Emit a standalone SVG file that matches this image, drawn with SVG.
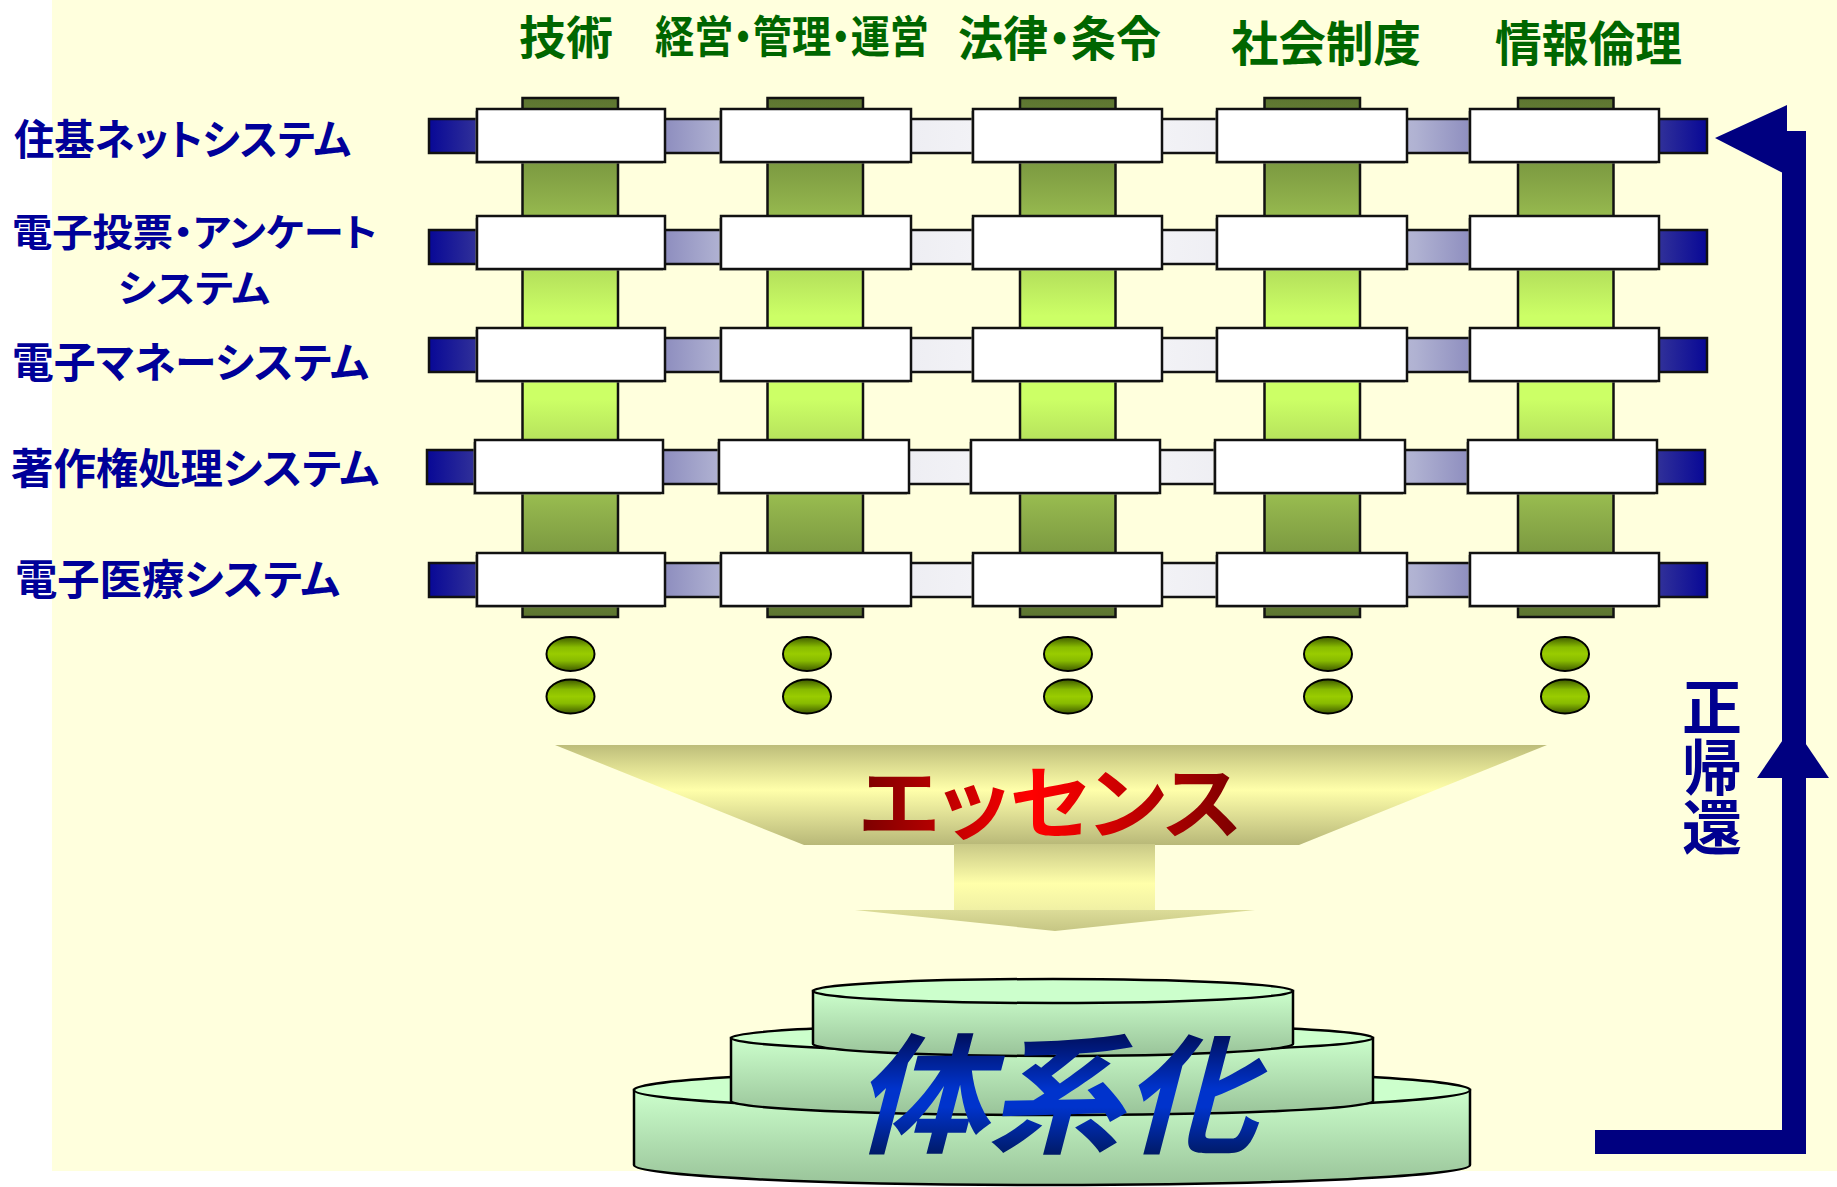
<svg xmlns="http://www.w3.org/2000/svg" width="1837" height="1187" viewBox="0 0 1837 1187">
<style>
  text { font-family: "Noto Sans CJK JP", "Noto Sans CJK SC", sans-serif; font-feature-settings: "palt"; }
  .hdr { font-size: 48px; font-weight: bold; fill: #006600; }
  .lbl { font-size: 42px; font-weight: bold; fill: #000099; }
  .box { fill: #ffffff; stroke: #111111; stroke-width: 2.5; }
  .shadow { fill: #8f8f80; opacity: 0.5; }
  .col { fill: url(#gCol); stroke: #111111; stroke-width: 2.5; }
  .bar { fill: url(#gBar); stroke: #111111; stroke-width: 2.5; }
  .dot { fill: url(#gDot); stroke: #000000; stroke-width: 2; }
  .cylside { fill: url(#gCyl); stroke: #000000; stroke-width: 2.5; }
  .cyltop { fill: #CCFFCC; stroke: #000000; stroke-width: 2.5; }
  .fb { fill: #000080; }
</style>
<defs>
  <linearGradient id="gCol" x1="0" y1="0" x2="0" y2="1">
    <stop offset="0" stop-color="#5C7530"/>
    <stop offset="0.2" stop-color="#8FB04B"/>
    <stop offset="0.42" stop-color="#CCFF66"/>
    <stop offset="0.58" stop-color="#CCFF66"/>
    <stop offset="0.8" stop-color="#8FB04B"/>
    <stop offset="1" stop-color="#5C7530"/>
  </linearGradient>
  <linearGradient id="gBar" x1="0" y1="0" x2="1" y2="0">
    <stop offset="0" stop-color="#080896"/>
    <stop offset="0.037" stop-color="#303099"/>
    <stop offset="0.185" stop-color="#8E8EBF"/>
    <stop offset="0.228" stop-color="#B0B2D2"/>
    <stop offset="0.377" stop-color="#EEEEF3"/>
    <stop offset="0.5" stop-color="#F8F8FA"/>
    <stop offset="0.623" stop-color="#EEEEF3"/>
    <stop offset="0.772" stop-color="#B0B2D2"/>
    <stop offset="0.815" stop-color="#8E8EBF"/>
    <stop offset="0.963" stop-color="#303099"/>
    <stop offset="1" stop-color="#080896"/>
  </linearGradient>
  <linearGradient id="gDot" x1="0" y1="0" x2="0" y2="1">
    <stop offset="0" stop-color="#3F5A00"/>
    <stop offset="0.3" stop-color="#88BB00"/>
    <stop offset="0.5" stop-color="#99CC00"/>
    <stop offset="0.7" stop-color="#88BB00"/>
    <stop offset="1" stop-color="#3F5A00"/>
  </linearGradient>
  <linearGradient id="gFunnel" x1="0" y1="0" x2="0" y2="1">
    <stop offset="0" stop-color="#BDBD7A"/>
    <stop offset="0.15" stop-color="#D4D48A"/>
    <stop offset="0.45" stop-color="#FFFFAA"/>
    <stop offset="0.75" stop-color="#D8D890"/>
    <stop offset="1" stop-color="#B8B878"/>
  </linearGradient>
  <linearGradient id="gStem" x1="0" y1="0" x2="0" y2="1">
    <stop offset="0" stop-color="#C9C986"/>
    <stop offset="0.6" stop-color="#FFFFAA"/>
    <stop offset="1" stop-color="#F0F0A4"/>
  </linearGradient>
  <linearGradient id="gHead" x1="0" y1="0" x2="0" y2="1">
    <stop offset="0" stop-color="#DCDC98"/>
    <stop offset="1" stop-color="#C6C684"/>
  </linearGradient>
  <linearGradient id="gCyl" x1="0" y1="0" x2="0" y2="1">
    <stop offset="0" stop-color="#CCFFCC"/>
    <stop offset="1" stop-color="#99C399"/>
  </linearGradient>
  <linearGradient id="gEss" gradientUnits="userSpaceOnUse" x1="859" y1="0" x2="1242" y2="0">
    <stop offset="0" stop-color="#7A0000"/>
    <stop offset="0.45" stop-color="#FF0000"/>
    <stop offset="0.6" stop-color="#E00000"/>
    <stop offset="1" stop-color="#7A0000"/>
  </linearGradient>
  <linearGradient id="gTaikei" gradientUnits="userSpaceOnUse" x1="0" y1="1035" x2="0" y2="1155">
    <stop offset="0" stop-color="#001060"/>
    <stop offset="0.45" stop-color="#0033CC"/>
    <stop offset="0.6" stop-color="#0033CC"/>
    <stop offset="1" stop-color="#001A66"/>
  </linearGradient>
</defs>

<rect x="0" y="0" width="1837" height="1187" fill="#ffffff"/>
<rect x="52" y="0" width="1785" height="1171" fill="#FFFFDD"/>

<g id="headers">
  <text class="hdr" x="519" y="54" style="font-size:46px" textLength="94" lengthAdjust="spacingAndGlyphs">技術</text>
  <text class="hdr" x="655" y="53" style="font-size:44px" textLength="274" lengthAdjust="spacingAndGlyphs">経営・管理・運営</text>
  <text class="hdr" x="958" y="56" textLength="203" lengthAdjust="spacingAndGlyphs">法律・条令</text>
  <text class="hdr" x="1231" y="61" textLength="190" lengthAdjust="spacingAndGlyphs">社会制度</text>
  <text class="hdr" x="1495" y="61" textLength="187" lengthAdjust="spacingAndGlyphs">情報倫理</text>
</g>

<g id="columns">
  <rect class="col" x="522.5" y="98" width="95.5" height="519"/>
  <rect class="col" x="767.5" y="98" width="95.5" height="519"/>
  <rect class="col" x="1020" y="98" width="95.5" height="519"/>
  <rect class="col" x="1264.5" y="98" width="95.5" height="519"/>
  <rect class="col" x="1518" y="98" width="95.5" height="519"/>
</g>

<g id="row-juki">
  <text class="lbl" x="14" y="155" textLength="337" lengthAdjust="spacingAndGlyphs">住基ネットシステム</text>
  <rect class="bar" x="429" y="119" width="1278" height="34"/>
  <rect class="shadow" x="475" y="111" width="188" height="53"/><rect class="box" x="477" y="109" width="188" height="53"/>
  <rect class="shadow" x="719" y="111" width="190" height="53"/><rect class="box" x="721" y="109" width="190" height="53"/>
  <rect class="shadow" x="971" y="111" width="189" height="53"/><rect class="box" x="973" y="109" width="189" height="53"/>
  <rect class="shadow" x="1215" y="111" width="190" height="53"/><rect class="box" x="1217" y="109" width="190" height="53"/>
  <rect class="shadow" x="1468" y="111" width="189" height="53"/><rect class="box" x="1470" y="109" width="189" height="53"/>
</g>

<g id="row-vote">
  <text class="lbl" style="font-size:38px"><tspan x="12" y="246" textLength="365" lengthAdjust="spacingAndGlyphs">電子投票・アンケート</tspan><tspan x="118" y="302" textLength="152" lengthAdjust="spacingAndGlyphs">システム</tspan></text>
  <rect class="bar" x="429" y="230" width="1278" height="34"/>
  <rect class="shadow" x="475" y="218" width="188" height="53"/><rect class="box" x="477" y="216" width="188" height="53"/>
  <rect class="shadow" x="719" y="218" width="190" height="53"/><rect class="box" x="721" y="216" width="190" height="53"/>
  <rect class="shadow" x="971" y="218" width="189" height="53"/><rect class="box" x="973" y="216" width="189" height="53"/>
  <rect class="shadow" x="1215" y="218" width="190" height="53"/><rect class="box" x="1217" y="216" width="190" height="53"/>
  <rect class="shadow" x="1468" y="218" width="189" height="53"/><rect class="box" x="1470" y="216" width="189" height="53"/>
</g>

<g id="row-money">
  <text class="lbl" x="12" y="378" textLength="357" lengthAdjust="spacingAndGlyphs">電子マネーシステム</text>
  <rect class="bar" x="429" y="338" width="1278" height="34"/>
  <rect class="shadow" x="475" y="330" width="188" height="53"/><rect class="box" x="477" y="328" width="188" height="53"/>
  <rect class="shadow" x="719" y="330" width="190" height="53"/><rect class="box" x="721" y="328" width="190" height="53"/>
  <rect class="shadow" x="971" y="330" width="189" height="53"/><rect class="box" x="973" y="328" width="189" height="53"/>
  <rect class="shadow" x="1215" y="330" width="190" height="53"/><rect class="box" x="1217" y="328" width="190" height="53"/>
  <rect class="shadow" x="1468" y="330" width="189" height="53"/><rect class="box" x="1470" y="328" width="189" height="53"/>
</g>

<g id="row-copyright">
  <text class="lbl" x="11" y="484" textLength="368" lengthAdjust="spacingAndGlyphs">著作権処理システム</text>
  <rect class="bar" x="427" y="450" width="1278" height="34"/>
  <rect class="shadow" x="473" y="442" width="188" height="53"/><rect class="box" x="475" y="440" width="188" height="53"/>
  <rect class="shadow" x="717" y="442" width="190" height="53"/><rect class="box" x="719" y="440" width="190" height="53"/>
  <rect class="shadow" x="969" y="442" width="189" height="53"/><rect class="box" x="971" y="440" width="189" height="53"/>
  <rect class="shadow" x="1213" y="442" width="190" height="53"/><rect class="box" x="1215" y="440" width="190" height="53"/>
  <rect class="shadow" x="1466" y="442" width="189" height="53"/><rect class="box" x="1468" y="440" width="189" height="53"/>
</g>

<g id="row-medical">
  <text class="lbl" x="15" y="595" textLength="325" lengthAdjust="spacingAndGlyphs">電子医療システム</text>
  <rect class="bar" x="429" y="563" width="1278" height="34"/>
  <rect class="shadow" x="475" y="555" width="188" height="53"/><rect class="box" x="477" y="553" width="188" height="53"/>
  <rect class="shadow" x="719" y="555" width="190" height="53"/><rect class="box" x="721" y="553" width="190" height="53"/>
  <rect class="shadow" x="971" y="555" width="189" height="53"/><rect class="box" x="973" y="553" width="189" height="53"/>
  <rect class="shadow" x="1215" y="555" width="190" height="53"/><rect class="box" x="1217" y="553" width="190" height="53"/>
  <rect class="shadow" x="1468" y="555" width="189" height="53"/><rect class="box" x="1470" y="553" width="189" height="53"/>
</g>

<g id="continuation-dots">
  <ellipse class="dot" cx="570.5" cy="654" rx="24" ry="17"/>
  <ellipse class="dot" cx="570.5" cy="696.5" rx="24" ry="17"/>
  <ellipse class="dot" cx="807" cy="654" rx="24" ry="17"/>
  <ellipse class="dot" cx="807" cy="696.5" rx="24" ry="17"/>
  <ellipse class="dot" cx="1068" cy="654" rx="24" ry="17"/>
  <ellipse class="dot" cx="1068" cy="696.5" rx="24" ry="17"/>
  <ellipse class="dot" cx="1328" cy="654" rx="24" ry="17"/>
  <ellipse class="dot" cx="1328" cy="696.5" rx="24" ry="17"/>
  <ellipse class="dot" cx="1565" cy="654" rx="24" ry="17"/>
  <ellipse class="dot" cx="1565" cy="696.5" rx="24" ry="17"/>
</g>

<g id="essence">
  <polygon points="555,745 1547,745 1299,845 804,845" fill="url(#gFunnel)"/>
  <rect x="954" y="844" width="201" height="66" fill="url(#gStem)"/>
  <polygon points="855,910 1255,910 1055,931" fill="url(#gHead)"/>
  <text x="859" y="832" style="font-size:80px;font-weight:bold" fill="url(#gEss)" textLength="383" lengthAdjust="spacingAndGlyphs">エッセンス</text>
</g>

<g id="systematization">
  <path class="cylside" d="M634,1090 L634,1165 A418,20 0 0 0 1470,1165 L1470,1090 Z"/>
  <ellipse class="cyltop" cx="1052" cy="1090" rx="418" ry="20"/>
  <path class="cylside" d="M731,1038 L731,1101 A321,14 0 0 0 1373,1101 L1373,1038 Z"/>
  <ellipse class="cyltop" cx="1052" cy="1038" rx="321" ry="14"/>
  <path class="cylside" d="M813,991 L813,1044 A240,12 0 0 0 1293,1044 L1293,991 Z"/>
  <ellipse class="cyltop" cx="1053" cy="991" rx="240" ry="12"/>
  <text x="853" y="1143" style="font-size:130px;font-weight:bold;font-style:italic" fill="url(#gTaikei)" textLength="404" lengthAdjust="spacingAndGlyphs">体系化</text>
</g>

<g id="feedback-label">
  <text x="1712" y="677" writing-mode="vertical-rl" style="font-size:60px;font-weight:bold;font-feature-settings:normal" fill="#000090">正帰還</text>
</g>

<g id="connectors">
  <g id="feedback-arrow">
    <rect class="fb" x="1595" y="1130" width="211" height="24"/>
    <rect class="fb" x="1782" y="131" width="24" height="1023"/>
    <polygon class="fb" points="1715,138 1787,105 1787,175"/>
    <polygon class="fb" points="1793,725 1757,778 1829,778"/>
  </g>
</g>
</svg>
